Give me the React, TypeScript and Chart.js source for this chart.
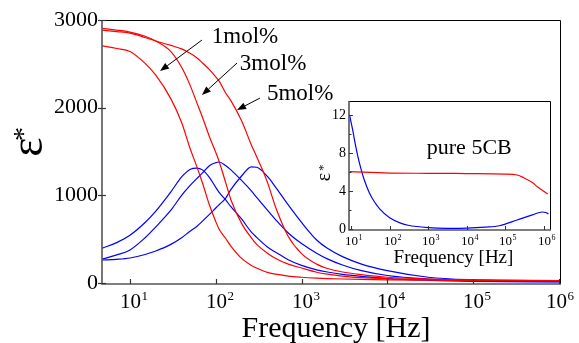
import React, { useEffect, useRef } from 'react';
import { Chart, registerables } from 'chart.js';

Chart.register(...registerables);

// ---------- main chart data ----------
const mainFreq = [4.7, 7, 10, 15, 20, 30, 40, 50, 60, 70, 85, 100, 110, 130, 150, 200, 260, 300, 400, 500, 700, 1000, 1500, 2000, 3000, 5000, 1e4, 3e4, 1e5, 1e6];
const red1mol = [2705, 2675, 2640, 2505, 2370, 2100, 1830, 1540, 1330, 1140, 880, 700, 610, 510, 420, 280, 200, 170, 120, 100, 78, 65, 55, 50, 45, 40, 36, 32, 28, 22];
const red3mol = [2905, 2885, 2862, 2815, 2760, 2640, 2460, 2260, 2060, 1890, 1660, 1490, 1380, 1150, 950, 680, 515, 440, 340, 280, 215, 170, 122, 100, 78, 60, 48, 38, 32, 25];
const red5mol = [2885, 2868, 2850, 2800, 2760, 2710, 2670, 2620, 2570, 2510, 2430, 2350, 2300, 2170, 2080, 1850, 1575, 1440, 1150, 860, 530, 335, 215, 165, 125, 95, 65, 45, 35, 28];
const blue1mol = [395, 460, 545, 690, 820, 1040, 1210, 1295, 1311, 1290, 1200, 1090, 1030, 950, 870, 730, 580, 520, 410, 350, 265, 200, 150, 125, 98, 75, 50, 30, 18, 12];
const blue3mol = [270, 320, 376, 515, 640, 830, 1000, 1110, 1190, 1255, 1340, 1372, 1380, 1340, 1290, 1170, 1050, 975, 830, 720, 570, 450, 340, 275, 205, 140, 85, 45, 25, 15];
const blue5mol = [262, 270, 285, 325, 365, 440, 515, 590, 645, 705, 785, 855, 895, 965, 1065, 1220, 1325, 1320, 1215, 1090, 890, 690, 490, 395, 300, 215, 140, 65, 35, 18];

const mainYTicks = [0, 1000, 2000, 3000];
const decadeTicks = [1e1, 1e2, 1e3, 1e4, 1e5, 1e6];
const decadeExps = ['1', '2', '3', '4', '5', '6'];
const xTitle = 'Frequency [Hz]';

// annotation labels (anchored in data coordinates)
const concLabels = ['1mol%', '3mol%', '5mol%'];
const concLabelAt = [[90, 2737], [191, 2429], [395, 2087]];
const arrowFrom = [[69, 2771], [177, 2509], [327, 2109]];
const arrowTo = [[22.4, 2417], [69, 2144], [177, 1973]];

// ---------- inset data (pure 5CB) ----------
const insetBlueFreq = [9.3, 11, 13, 15, 18, 22, 30, 40, 56, 100, 200, 300, 1000, 3000, 1e4, 3e4, 7e4, 2e5, 5e5, 9e5, 1.1e6, 1.3e6];
const insetBlue = [11.9, 10.5, 8.9, 7.7, 6.4, 5.2, 3.8, 2.9, 2.1, 1.2, 0.6, 0.4, 0.15, 0.08, 0.1, 0.2, 0.35, 0.95, 1.5, 1.8, 1.75, 1.6];
const insetRedFreq = [9.3, 100, 1e3, 1e4, 1e5, 2e5, 3e5, 5e5, 7e5, 9e5, 1.25e6];
const insetRed = [6.05, 5.9, 5.88, 5.85, 5.8, 5.7, 5.4, 4.9, 4.4, 4.1, 3.7];
const insetYTicks = [0, 4, 8, 12];
const insetYMinor = [2, 6, 10];
const insetLabel = 'pure 5CB';
const insetLabelAt = [920, 7.9];

const SERIF = '"Liberation Serif", "Times New Roman", serif';
const RED = '#ff0000';
const BLUE = '#0000ff';

function pts(xs: number[], ys: number[]) {
  return xs.map((x, i) => ({ x, y: ys[i] }));
}

function drawPow(ctx: CanvasRenderingContext2D, x: number, baseY: number, exp: string, baseSize: number, expSize: number, rise: number, maxRight: number) {
  ctx.font = `${baseSize}px ${SERIF}`;
  const w10 = ctx.measureText('10').width;
  ctx.font = `${expSize}px ${SERIF}`;
  const we = ctx.measureText(exp).width;
  let left = x - w10 / 2;
  if (left + w10 + we + 0.5 > maxRight) left = maxRight - w10 - we - 0.5;
  ctx.textAlign = 'left';
  ctx.textBaseline = 'alphabetic';
  ctx.fillStyle = '#000';
  ctx.font = `${baseSize}px ${SERIF}`;
  ctx.fillText('10', left, baseY);
  ctx.font = `${expSize}px ${SERIF}`;
  ctx.fillText(exp, left + w10 + 0.5, baseY - rise);
}

function drawYLabels(ctx: CanvasRenderingContext2D, ys: any, ticks: number[], right: number, size: number) {
  ctx.fillStyle = '#000';
  ctx.font = `${size}px ${SERIF}`;
  ctx.textAlign = 'right';
  ctx.textBaseline = 'middle';
  ticks.forEach((v) => ctx.fillText(String(v), right, ys.getPixelForValue(v)));
}

function drawTitle(ctx: CanvasRenderingContext2D, text: string, cx: number, base: number, size: number) {
  ctx.fillStyle = '#000';
  ctx.font = `${size}px ${SERIF}`;
  ctx.textAlign = 'center';
  ctx.textBaseline = 'alphabetic';
  ctx.fillText(text, cx, base);
}

function drawFrame(ctx: CanvasRenderingContext2D, a: { left: number; right: number; top: number; bottom: number }) {
  ctx.save();
  ctx.strokeStyle = '#000';
  ctx.lineWidth = 1;
  ctx.beginPath();
  ctx.moveTo(a.left, a.top + 0.5);
  ctx.lineTo(a.right + 0.5, a.top + 0.5);
  ctx.lineTo(a.right + 0.5, a.bottom);
  ctx.stroke();
  ctx.strokeStyle = '#555';
  ctx.lineWidth = 1.6;
  ctx.beginPath();
  ctx.moveTo(a.left, a.top);
  ctx.lineTo(a.left, a.bottom);
  ctx.lineTo(a.right + 1, a.bottom);
  ctx.stroke();
  ctx.restore();
}

function drawArrow(ctx: CanvasRenderingContext2D, x1: number, y1: number, x2: number, y2: number) {
  const ang = Math.atan2(y2 - y1, x2 - x1);
  const len = 9, hw = 3.5;
  const bx = x2 - Math.cos(ang) * len, by = y2 - Math.sin(ang) * len;
  ctx.strokeStyle = '#000';
  ctx.lineWidth = 1;
  ctx.beginPath();
  ctx.moveTo(x1, y1);
  ctx.lineTo(bx, by);
  ctx.stroke();
  ctx.fillStyle = '#000';
  ctx.beginPath();
  ctx.moveTo(x2, y2);
  ctx.lineTo(bx + Math.sin(ang) * hw, by - Math.cos(ang) * hw);
  ctx.lineTo(bx - Math.sin(ang) * hw, by + Math.cos(ang) * hw);
  ctx.closePath();
  ctx.fill();
}

function drawEpsTitle(ctx: CanvasRenderingContext2D, cx: number, cy: number, size: number, starSize: number, base: number, starX: number, starBase: number) {
  ctx.save();
  ctx.translate(cx, cy);
  ctx.rotate(-Math.PI / 2);
  ctx.fillStyle = '#000';
  ctx.textBaseline = 'alphabetic';
  ctx.textAlign = 'center';
  ctx.font = `${size}px ${SERIF}`;
  ctx.fillText('ε', 0, base);
  ctx.textAlign = 'left';
  ctx.font = `${starSize}px ${SERIF}`;
  ctx.fillText('*', starX, starBase);
  ctx.restore();
}

const mainDecor = {
  id: 'mainDecor',
  afterDraw(chart: any) {
    const { ctx, chartArea: a, scales } = chart;
    const xs = scales.x, ys = scales.y;
    ctx.save();
    drawFrame(ctx, a);
    ctx.strokeStyle = '#333';
    ctx.lineWidth = 1.2;
    mainYTicks.forEach((v) => {
      const y = Math.round(ys.getPixelForValue(v)) + 0.5;
      ctx.beginPath();
      ctx.moveTo(a.left - 4, y);
      ctx.lineTo(a.left + 4, y);
      ctx.stroke();
    });
    drawYLabels(ctx, ys, mainYTicks, a.left - 4, 22);
    decadeTicks.forEach((v, i) => {
      const x = Math.round(xs.getPixelForValue(v)) + 0.5;
      ctx.strokeStyle = '#333';
      ctx.beginPath();
      ctx.moveTo(x, a.bottom);
      ctx.lineTo(x, a.bottom - 5);
      ctx.stroke();
      drawPow(ctx, x, 308, decadeExps[i], 21, 13, 8, 574);
    });
    drawTitle(ctx, xTitle, (a.left + a.right) / 2 + 5, 337, 30);
    drawEpsTitle(ctx, 31, 147, 46, 28, 11, 6, 1);
    ctx.fillStyle = '#000';
    ctx.font = `23px ${SERIF}`;
    ctx.textAlign = 'left';
    ctx.textBaseline = 'alphabetic';
    concLabels.forEach((t, i) => {
      ctx.fillText(t, xs.getPixelForValue(concLabelAt[i][0]), ys.getPixelForValue(concLabelAt[i][1]));
      drawArrow(ctx,
        xs.getPixelForValue(arrowFrom[i][0]), ys.getPixelForValue(arrowFrom[i][1]),
        xs.getPixelForValue(arrowTo[i][0]), ys.getPixelForValue(arrowTo[i][1]));
    });
    ctx.restore();
  },
};

const insetDecor = {
  id: 'insetDecor',
  beforeDraw(chart: any) {
    const { ctx, chartArea: a } = chart;
    ctx.save();
    ctx.fillStyle = '#fff';
    ctx.fillRect(a.left, a.top, a.right - a.left, a.bottom - a.top);
    ctx.restore();
  },
  afterDraw(chart: any) {
    const { ctx, chartArea: a, scales } = chart;
    const xs = scales.x, ys = scales.y;
    ctx.save();
    drawFrame(ctx, a);
    ctx.strokeStyle = '#333';
    ctx.lineWidth = 1;
    insetYTicks.forEach((v) => {
      const y = Math.round(ys.getPixelForValue(v)) + 0.5;
      ctx.beginPath();
      ctx.moveTo(a.left, y);
      ctx.lineTo(a.left + 4, y);
      ctx.stroke();
    });
    insetYMinor.forEach((v) => {
      const y = Math.round(ys.getPixelForValue(v)) + 0.5;
      ctx.beginPath();
      ctx.moveTo(a.left, y);
      ctx.lineTo(a.left + 2.5, y);
      ctx.stroke();
    });
    drawYLabels(ctx, ys, insetYTicks, a.left - 3, 14);
    decadeTicks.forEach((v, i) => {
      const x = Math.round(xs.getPixelForValue(v)) + 0.5;
      ctx.strokeStyle = '#333';
      ctx.beginPath();
      ctx.moveTo(x, a.bottom);
      ctx.lineTo(x, a.bottom - 4);
      ctx.stroke();
      drawPow(ctx, x, 245 - 92, decadeExps[i], 13, 8, 5, 260);
    });
    drawTitle(ctx, xTitle, (a.left + a.right) / 2 + 4, 263 - 92, 19);
    drawEpsTitle(ctx, 325 - 312, 177 - 92, 20, 13, 5, 6, 2);
    ctx.fillStyle = '#000';
    ctx.font = `22px ${SERIF}`;
    ctx.textAlign = 'left';
    ctx.textBaseline = 'alphabetic';
    ctx.fillText(insetLabel, xs.getPixelForValue(insetLabelAt[0]), ys.getPixelForValue(insetLabelAt[1]));
    ctx.restore();
  },
};

export default function App() {
  const mainRef = useRef<HTMLCanvasElement>(null);
  const insetRef = useRef<HTMLCanvasElement>(null);

  useEffect(() => {
    const lineDs = (label: string, xs: number[], ys: number[], color: string) => ({
      label,
      data: pts(xs, ys),
      borderColor: color,
      backgroundColor: color,
      borderWidth: 1.2,
      pointRadius: 0,
      fill: false,
      cubicInterpolationMode: 'monotone' as const,
    });
    const hiddenAxis = {
      grid: { display: false, drawTicks: false, tickLength: 0 },
      border: { display: false },
      ticks: { display: false },
    };

    const main = new Chart(mainRef.current!, {
      type: 'line',
      data: {
        datasets: [
          lineDs("1mol% ε'", mainFreq, red1mol, RED),
          lineDs("3mol% ε'", mainFreq, red3mol, RED),
          lineDs("5mol% ε'", mainFreq, red5mol, RED),
          lineDs("1mol% ε''", mainFreq, blue1mol, BLUE),
          lineDs("3mol% ε''", mainFreq, blue3mol, BLUE),
          lineDs("5mol% ε''", mainFreq, blue5mol, BLUE),
        ],
      },
      options: {
        animation: false,
        responsive: false,
        maintainAspectRatio: false,
        layout: { padding: { top: 20, right: 19, left: 0, bottom: 0 } },
        plugins: { legend: { display: false }, tooltip: { enabled: false } },
        scales: {
          x: {
            type: 'logarithmic', min: 4.72, max: 1.03e6, ...hiddenAxis,
            afterFit: (s: any) => { s.height = 59; },
          },
          y: {
            type: 'linear', min: -12, max: 3000, ...hiddenAxis,
            afterFit: (s: any) => { s.width = 102; },
          },
        },
      } as any,
      plugins: [mainDecor],
    });

    const inset = new Chart(insetRef.current!, {
      type: 'line',
      data: {
        datasets: [
          lineDs("5CB ε'", insetRedFreq, insetRed, RED),
          lineDs("5CB ε''", insetBlueFreq, insetBlue, BLUE),
        ],
      },
      options: {
        animation: false,
        responsive: false,
        maintainAspectRatio: false,
        layout: { padding: { top: 9, right: 12, left: 0, bottom: 0 } },
        plugins: { legend: { display: false }, tooltip: { enabled: false } },
        scales: {
          x: {
            type: 'logarithmic', min: 8.88, max: 1.43e6, ...hiddenAxis,
            afterFit: (s: any) => { s.height = 38; },
          },
          y: {
            type: 'linear', min: -0.1, max: 13.5, ...hiddenAxis,
            afterFit: (s: any) => { s.width = 37; },
          },
        },
      } as any,
      plugins: [insetDecor],
    });

    return () => {
      main.destroy();
      inset.destroy();
    };
  }, []);

  return (
    <div style={{ position: 'absolute', left: 0, top: 0, width: 579, height: 343, background: '#fff' }}>
      <canvas ref={mainRef} width={579} height={343} style={{ position: 'absolute', left: 0, top: 0, width: 579, height: 343 }} />
      <canvas ref={insetRef} width={250} height={176} style={{ position: 'absolute', left: 312, top: 92, width: 250, height: 176 }} />
    </div>
  );
}
